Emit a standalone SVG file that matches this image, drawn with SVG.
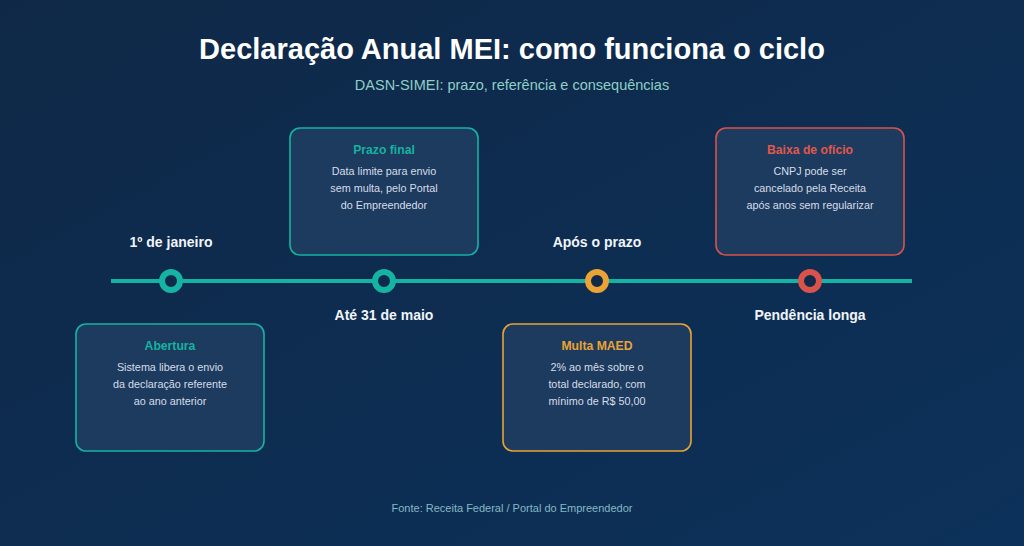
<svg xmlns="http://www.w3.org/2000/svg" width="1024" height="546" viewBox="0 0 1024 546">
<defs>
<linearGradient id="bg" x1="0" y1="0" x2="1" y2="1">
<stop offset="0" stop-color="#0f2847"/>
<stop offset="1" stop-color="#0c315a"/>
</linearGradient>
<style>
text{font-family:"Liberation Sans",Arial,sans-serif;text-anchor:middle}
.title{font-size:29px;font-weight:bold;fill:#ffffff}
.sub{font-size:14.5px;fill:#8fcfc6}
.lbl{font-size:14px;font-weight:bold;fill:#f1f5f9}
.box{fill:#1d3a5f;stroke-width:1.6}
.bt{font-size:12.2px;font-weight:bold}
.bd{font-size:10.8px;fill:#d6dee8}
.foot{font-size:11px;fill:#86b8c4}
.teal{stroke:#14b3a2}
.orange{stroke:#eaa334}
.red{stroke:#d9534a}
</style>
</defs>
<rect width="1024" height="546" fill="url(#bg)"/>
<text class="title" x="512" y="59">Declaração Anual MEI: como funciona o ciclo</text>
<text class="sub" x="512" y="90">DASN-SIMEI: prazo, referência e consequências</text>
<g id="connectors">
<line x1="111" y1="281" x2="912" y2="281" stroke="#14b3a2" stroke-width="4"/>
</g>
<g id="n1">
<circle cx="171" cy="281" r="9" fill="#0f2a4a" stroke="#14b3a2" stroke-width="6"/>
<text class="lbl" x="171" y="247">1º de janeiro</text>
<rect class="box teal" x="76" y="324" width="188" height="127" rx="10"/>
<text class="bt" x="170" y="350" fill="#14b3a2">Abertura</text>
<text class="bd" x="170" y="371">Sistema libera o envio</text>
<text class="bd" x="170" y="388">da declaração referente</text>
<text class="bd" x="170" y="405">ao ano anterior</text>
</g>
<g id="n2">
<circle cx="384" cy="281" r="9" fill="#0f2a4a" stroke="#14b3a2" stroke-width="6"/>
<text class="lbl" x="384" y="320">Até 31 de maio</text>
<rect class="box teal" x="290" y="128" width="188" height="127" rx="10"/>
<text class="bt" x="384" y="154" fill="#14b3a2">Prazo final</text>
<text class="bd" x="384" y="175">Data limite para envio</text>
<text class="bd" x="384" y="192">sem multa, pelo Portal</text>
<text class="bd" x="384" y="209">do Empreendedor</text>
</g>
<g id="n3">
<circle cx="597" cy="281" r="9" fill="#0f2a4a" stroke="#eaa334" stroke-width="6"/>
<text class="lbl" x="597" y="247">Após o prazo</text>
<rect class="box orange" x="503" y="324" width="188" height="127" rx="10"/>
<text class="bt" x="597" y="350" fill="#eaa334">Multa MAED</text>
<text class="bd" x="597" y="371">2% ao mês sobre o</text>
<text class="bd" x="597" y="388">total declarado, com</text>
<text class="bd" x="597" y="405">mínimo de R$ 50,00</text>
</g>
<g id="n4">
<circle cx="810" cy="281" r="9" fill="#0f2a4a" stroke="#d9534a" stroke-width="6"/>
<text class="lbl" x="810" y="320">Pendência longa</text>
<rect class="box red" x="716" y="128" width="188" height="127" rx="10"/>
<text class="bt" x="810" y="154" fill="#e0584c">Baixa de ofício</text>
<text class="bd" x="810" y="175">CNPJ pode ser</text>
<text class="bd" x="810" y="192">cancelado pela Receita</text>
<text class="bd" x="810" y="209">após anos sem regularizar</text>
</g>
<text class="foot" x="512" y="512">Fonte: Receita Federal / Portal do Empreendedor</text>
</svg>
